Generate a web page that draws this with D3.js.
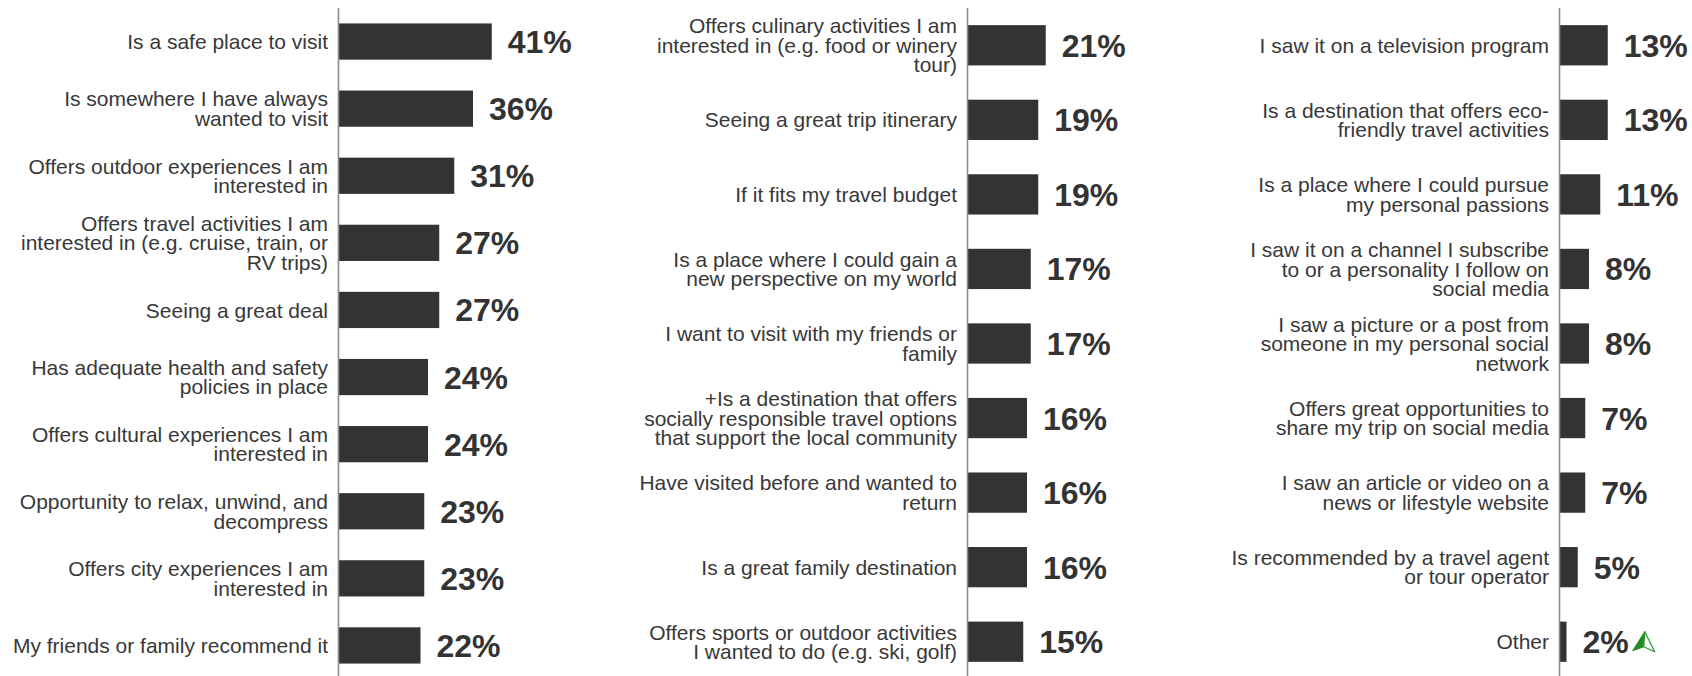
<!DOCTYPE html>
<html>
<head>
<meta charset="utf-8">
<script src="https://cdn.jsdelivr.net/npm/d3@7"></script>
<style>
  html, body { margin: 0; padding: 0; background: #ffffff; }
  svg { display: block; }
  .cat { font-family: "Liberation Sans", Arial, sans-serif; font-size: 21px; fill: #383838; }
  .val { font-family: "Liberation Sans", Arial, sans-serif; font-size: 32px; font-weight: bold; fill: #333333; }
</style>
</head>
<body>
<svg id="chart" width="1692" height="676"></svg>
<script>
// Reasons for choosing a destination, share of respondents (%)
const categories1 = [
  "Is a safe place to visit",
  "Is somewhere I have always\nwanted to visit",
  "Offers outdoor experiences I am\ninterested in",
  "Offers travel activities I am\ninterested in (e.g. cruise, train, or\nRV trips)",
  "Seeing a great deal",
  "Has adequate health and safety\npolicies in place",
  "Offers cultural experiences I am\ninterested in",
  "Opportunity to relax, unwind, and\ndecompress",
  "Offers city experiences I am\ninterested in",
  "My friends or family recommend it"
];
const values1 = [41, 36, 31, 27, 27, 24, 24, 23, 23, 22];

const categories2 = [
  "Offers culinary activities I am\ninterested in (e.g. food or winery\ntour)",
  "Seeing a great trip itinerary",
  "If it fits my travel budget",
  "Is a place where I could gain a\nnew perspective on my world",
  "I want to visit with my friends or\nfamily",
  "+Is a destination that offers\nsocially responsible travel options\nthat support the local community",
  "Have visited before and wanted to\nreturn",
  "Is a great family destination",
  "Offers sports or outdoor activities\nI wanted to do (e.g. ski, golf)"
];
const values2 = [21, 19, 19, 17, 17, 16, 16, 16, 15];

const categories3 = [
  "I saw it on a television program",
  "Is a destination that offers eco-\nfriendly travel activities",
  "Is a place where I could pursue\nmy personal passions",
  "I saw it on a channel I subscribe\nto or a personality I follow on\nsocial media",
  "I saw a picture or a post from\nsomeone in my personal social\nnetwork",
  "Offers great opportunities to\nshare my trip on social media",
  "I saw an article or video on a\nnews or lifestyle website",
  "Is recommended by a travel agent\nor tour operator",
  "Other"
];
const values3 = [13, 13, 11, 8, 8, 7, 7, 5, 2];

// Category whose value is flagged as significantly higher
const flaggedUp = "Other";

const svg = d3.select("#chart");
const lineHeight = 19.5;

// Shared value scale across all three columns
const x = d3.scaleLinear().domain([0, 100]).range([0, 375]);

const panels = [
  { cats: categories1, vals: values1, axisX: 338 },
  { cats: categories2, vals: values2, axisX: 967 },
  { cats: categories3, vals: values3, axisX: 1559 }
];

panels.forEach(p => {
  const y = d3.scaleBand()
    .domain(p.cats)
    .range([8, 679])
    .paddingInner(0.46)
    .paddingOuter(0.23);

  const g = svg.append("g").attr("transform", `translate(${p.axisX},0)`);

  const rows = p.cats.map((c, i) => ({ cat: c, val: p.vals[i] }));

  // Bars
  g.selectAll("rect.bar")
    .data(rows)
    .join("rect")
    .attr("class", "bar")
    .attr("x", 0)
    .attr("y", d => y(d.cat))
    .attr("width", d => x(d.val))
    .attr("height", y.bandwidth())
    .attr("fill", "#333333");

  // Vertical axis line
  const axis = d3.axisLeft(y).tickSize(0).tickFormat("");
  const ag = g.append("g").call(axis);
  ag.select(".domain").attr("stroke", "#8c8c8c").attr("stroke-width", 1.6)
    .attr("d", `M0.5,8V676`);

  // Category labels (right-aligned, multi-line)
  const labels = g.selectAll("text.cat")
    .data(rows)
    .join("text")
    .attr("class", "cat")
    .attr("text-anchor", "end");
  labels.each(function(d) {
    const lines = d.cat.split("\n");
    const cy = y(d.cat) + y.bandwidth() / 2;
    d3.select(this).selectAll("tspan")
      .data(lines)
      .join("tspan")
      .attr("x", -10)
      .attr("y", (l, i) => cy + (i - (lines.length - 1) / 2) * lineHeight)
      .attr("dy", "0.36em")
      .text(l => l);
  });

  // Value labels
  const vals = g.selectAll("text.val")
    .data(rows)
    .join("text")
    .attr("class", "val")
    .attr("x", d => x(d.val) + 16)
    .attr("y", d => y(d.cat) + y.bandwidth() / 2)
    .attr("dy", "0.36em")
    .text(d => d.val + "%");

  // Green up-arrow marker after a flagged value
  vals.filter(d => d.cat === flaggedUp).each(function(d) {
    const w = this.getComputedTextLength();
    const ax = x(d.val) + 16 + w + 4;
    const cy = y(d.cat) + y.bandwidth() / 2;
    const m = g.append("g").attr("transform", `translate(${ax},${cy})`);
    m.append("path")
      .attr("d", "M12,-10 L0,9 L11,5 Z")
      .attr("fill", "#1e8c1e").attr("stroke", "#1e8c1e").attr("stroke-width", 1);
    m.append("path")
      .attr("d", "M12,-10 L11,5 L22,10 Z")
      .attr("fill", "#ffffff").attr("stroke", "#2a9a2a").attr("stroke-width", 1.2)
      .attr("stroke-linejoin", "round");
  });
});
</script>
</body>
</html>
